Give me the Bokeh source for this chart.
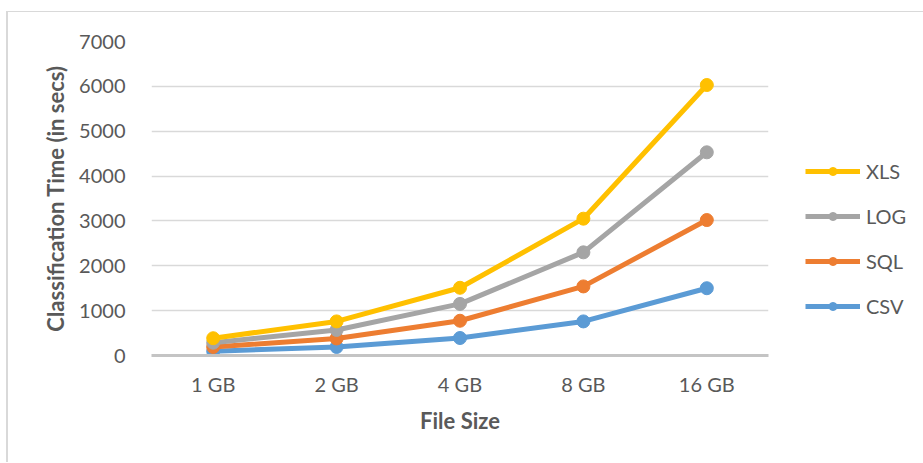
from bokeh.plotting import figure
from bokeh.models import Legend, LegendItem, FactorRange, Range1d, SingleIntervalTicker
from bokeh.embed import file_html
from bokeh.resources import INLINE

sizes = ["1 GB", "2 GB", "4 GB", "8 GB", "16 GB"]
xls = [385, 760, 1510, 3050, 6030]
log = [285, 570, 1150, 2300, 4530]
sql = [190, 380, 775, 1540, 3020]
csv = [95, 190, 390, 760, 1500]

series = [("CSV", csv, "#5B9BD5"), ("SQL", sql, "#ED7D31"),
          ("LOG", log, "#A5A5A5"), ("XLS", xls, "#FFC000")]

FONT = "Lato"
TXT = "#595959"

p = figure(x_range=FactorRange(*sizes), y_range=Range1d(0, 7000),
           frame_width=617, frame_height=314, output_backend="svg", toolbar_location=None,
           min_border_left=143, min_border_right=0, min_border_top=29,
           min_border_bottom=107)
p.margin = (11, 0, 0, 6)
p.styles = {"border-top": "1px solid #D9D9D9", "border-left": "2px solid #D9D9D9"}
p.outline_line_color = None
p.background_fill_color = "white"
p.border_fill_color = "white"

items = {}
for name, vals, col in series:
    r1 = p.line(sizes, vals, line_width=5, color=col)
    r2 = p.scatter(sizes, vals, size=13, color=col)
    items[name] = [r1, r2]

p.xgrid.grid_line_color = None
p.ygrid.grid_line_color = "#D9D9D9"
p.ygrid.grid_line_width = 1.5
p.yaxis.ticker = SingleIntervalTicker(interval=1000)
p.yaxis.axis_line_color = None
p.yaxis.major_tick_line_color = None
p.yaxis.minor_tick_line_color = None
p.yaxis.major_label_standoff = 20
p.xaxis.axis_line_color = "#C4C4C4"
p.xaxis.axis_line_width = 3
p.xaxis.major_tick_line_color = None
p.xaxis.major_label_standoff = 10

for ax in (p.xaxis, p.yaxis):
    ax.major_label_text_font = FONT
    ax.major_label_text_font_size = "20px"
    ax.major_label_text_color = TXT
    ax.axis_label_text_font = FONT
    ax.axis_label_text_font_size = "22px"
    ax.axis_label_text_font_style = "bold"
    ax.axis_label_text_color = TXT

p.xaxis.axis_label = "File Size"
p.yaxis.axis_label = "Classification Time (in secs)"
p.xaxis.axis_label_standoff = 8
p.yaxis.axis_label_standoff = 7

legend = Legend(items=[LegendItem(label=n, renderers=items[n]) for n in ["XLS", "LOG", "SQL", "CSV"]],
                location="bottom_left")
legend.glyph_width = 55
legend.glyph_height = 20
legend.label_height = 20
legend.spacing = 21
legend.padding = 0
legend.margin = 37
legend.label_standoff = 6
legend.label_width = 15
legend.border_line_color = None
legend.background_fill_alpha = 0
legend.label_text_font = FONT
legend.label_text_font_size = "20px"
legend.label_text_color = TXT
p.add_layout(legend, "right")

open("out.html", "w").write(file_html(p, INLINE))
